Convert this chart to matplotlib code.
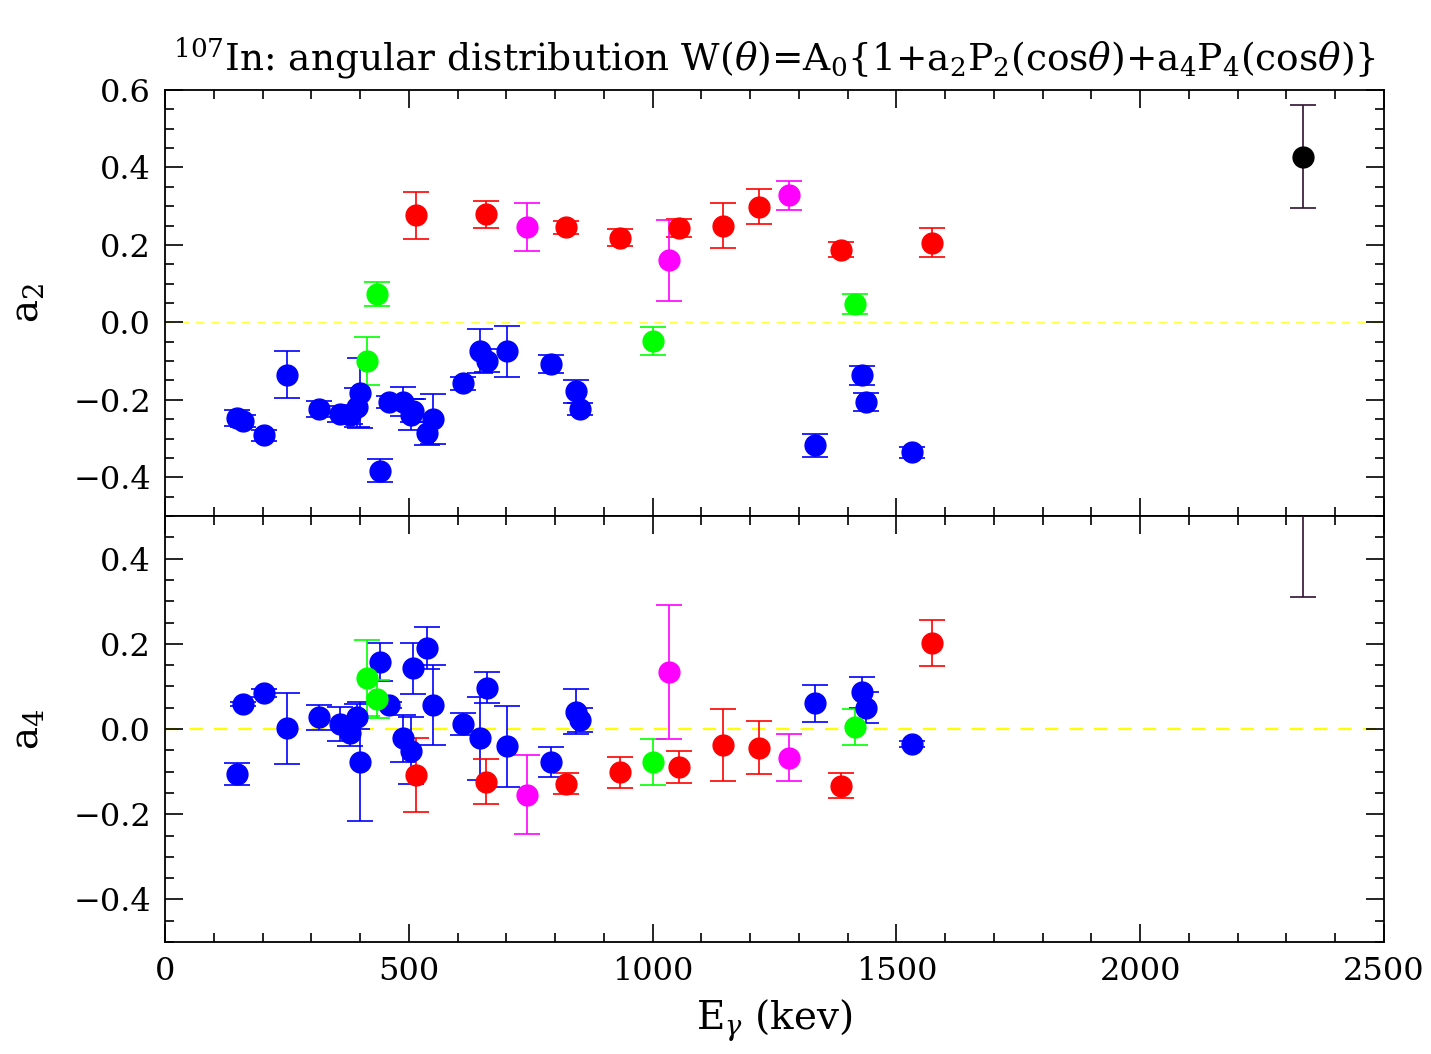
import numpy as np
import matplotlib
matplotlib.use("Agg")
import matplotlib.pyplot as plt
from matplotlib.ticker import MultipleLocator

plt.rcParams['font.family'] = 'DejaVu Serif'
plt.rcParams['mathtext.fontset'] = 'dejavuserif'

# gamma-ray energies (keV) and coefficients per group
blue_e = [148, 160, 203, 251, 316, 359, 380, 393, 400, 441, 460, 488, 504, 509,
          538, 550, 611, 646, 660, 701, 791, 842, 851, 1333, 1430, 1437, 1532]
blue_a2 = [-0.247, -0.254, -0.292, -0.135, -0.224, -0.237, -0.238, -0.219, -0.182,
           -0.383, -0.206, -0.205, -0.238, -0.228, -0.286, -0.249, -0.157, -0.073,
           -0.099, -0.075, -0.108, -0.178, -0.223, -0.317, -0.137, -0.206, -0.336]
blue_a2_err = [0.02, 0.015, 0.015, 0.06, 0.02, 0.02, 0.025, 0.05, 0.09, 0.029,
               0.015, 0.038, 0.04, 0.03, 0.03, 0.065, 0.017, 0.057, 0.03, 0.065,
               0.024, 0.03, 0.015, 0.03, 0.024, 0.023, 0.015]
blue_a4 = [-0.106, 0.059, 0.085, 0.002, 0.027, 0.012, -0.009, 0.029, -0.077,
           0.157, 0.056, -0.022, -0.051, 0.143, 0.19, 0.056, 0.012, -0.022,
           0.097, -0.04, -0.077, 0.041, 0.021, 0.06, 0.086, 0.05, -0.035]
blue_a4_err = [0.026, 0.005, 0.01, 0.083, 0.03, 0.04, 0.03, 0.03, 0.14, 0.044,
               0.007, 0.055, 0.078, 0.06, 0.05, 0.094, 0.026, 0.097, 0.036, 0.095,
               0.035, 0.052, 0.028, 0.044, 0.037, 0.036, 0.007]

green_e = [415, 435, 1000, 1415]
green_a2 = [-0.101, 0.073, -0.049, 0.047]
green_a2_err = [0.062, 0.03, 0.036, 0.026]
green_a4 = [0.119, 0.07, -0.077, 0.005]
green_a4_err = [0.089, 0.045, 0.054, 0.043]

red_e = [515, 658, 823, 933, 1055, 1145, 1219, 1387, 1573]
red_a2 = [0.276, 0.279, 0.245, 0.219, 0.243, 0.250, 0.299, 0.188, 0.206]
red_a2_err = [0.06, 0.035, 0.017, 0.022, 0.023, 0.057, 0.045, 0.019, 0.038]
red_a4 = [-0.108, -0.124, -0.128, -0.102, -0.089, -0.038, -0.044, -0.133, 0.202]
red_a4_err = [0.087, 0.053, 0.024, 0.036, 0.037, 0.085, 0.062, 0.029, 0.055]

magenta_e = [742, 1034, 1279]
magenta_a2 = [0.245, 0.160, 0.328]
magenta_a2_err = [0.062, 0.105, 0.038]
magenta_a4 = [-0.154, 0.133, -0.067]
magenta_a4_err = [0.093, 0.157, 0.055]

black_e = [2334]
black_a2 = [0.428]
black_a2_err = [0.132]
black_a4 = [0.6]
black_a4_err = [0.29]

groups = [
    (blue_e, blue_a2, blue_a2_err, blue_a4, blue_a4_err, '#0000ff', '#0000ff'),
    (green_e, green_a2, green_a2_err, green_a4, green_a4_err, '#00ff00', '#00ff00'),
    (red_e, red_a2, red_a2_err, red_a4, red_a4_err, '#ff0000', '#ff0000'),
    (magenta_e, magenta_a2, magenta_a2_err, magenta_a4, magenta_a4_err, '#ff00ff', '#ff00ff'),
    (black_e, black_a2, black_a2_err, black_a4, black_a4_err, '#000000', '#301030'),
]

fig = plt.figure(figsize=(14.31, 10.54), dpi=100)
left, right = 165 / 1431, 1384 / 1431
top, mid, bot = 1 - 90 / 1054, 1 - 516 / 1054, 1 - 942 / 1054
ax1 = fig.add_axes([left, mid, right - left, top - mid])
ax2 = fig.add_axes([left, bot, right - left, mid - bot], sharex=ax1)

for e, a2, a2e, a4, a4e, col, ecol in groups:
    ax1.errorbar(e, a2, yerr=a2e, fmt='o', color=col, ecolor=ecol, ms=15,
                 elinewidth=1.2, capsize=9.5, capthick=1.2, zorder=3)
    ax2.errorbar(e, a4, yerr=a4e, fmt='o', color=col, ecolor=ecol, ms=15,
                 elinewidth=1.2, capsize=9.5, capthick=1.2, zorder=3)

ax1.axhline(0, color='#ffff40', ls=(0, (6, 5)), lw=1.0, zorder=1)
ax2.axhline(0, color='#ffff00', ls=(0, (6, 5)), lw=1.6, zorder=1)

ax1.set_xlim(0, 2500)
ax1.set_ylim(-0.5, 0.6)
ax2.set_ylim(-0.5, 0.5)

for ax in (ax1, ax2):
    ax.xaxis.set_major_locator(MultipleLocator(500))
    ax.xaxis.set_minor_locator(MultipleLocator(100))
    ax.yaxis.set_major_locator(MultipleLocator(0.2))
    ax.yaxis.set_minor_locator(MultipleLocator(0.05))
    ax.tick_params(which='both', direction='in', top=True, right=True,
                   labelsize=23, width=1.2, pad=10)
    ax.tick_params(which='major', length=13)
    ax.tick_params(which='minor', length=6.5)
    for s in ax.spines.values():
        s.set_linewidth(1.3)

ax1.tick_params(labelbottom=False)
ax1.set_yticks([-0.4, -0.2, 0.0, 0.2, 0.4, 0.6])
ax1.set_yticklabels(['\u22120.4', '\u22120.2', '0.0', '0.2', '0.4', '0.6'])
ax2.set_yticks([-0.4, -0.2, 0.0, 0.2, 0.4])
ax2.set_yticklabels(['\u22120.4', '\u22120.2', '0.0', '0.2', '0.4'])
ax2.set_xticks([0, 500, 1000, 1500, 2000, 2500])

ax1.set_ylabel('a$_2$', fontsize=28, labelpad=20)
ax2.set_ylabel('a$_4$', fontsize=28, labelpad=20)
ax2.set_xlabel(r'E$_\gamma$ (kev)', fontsize=28, labelpad=8)
ax1.set_title(r'$^{107}$In: angular distribution W($\theta$)=A$_0${1+a$_2$P$_2$(cos$\theta$)+a$_4$P$_4$(cos$\theta$)}',
              fontsize=27, pad=14, x=0.5)

fig.savefig('out.png', dpi=100)
